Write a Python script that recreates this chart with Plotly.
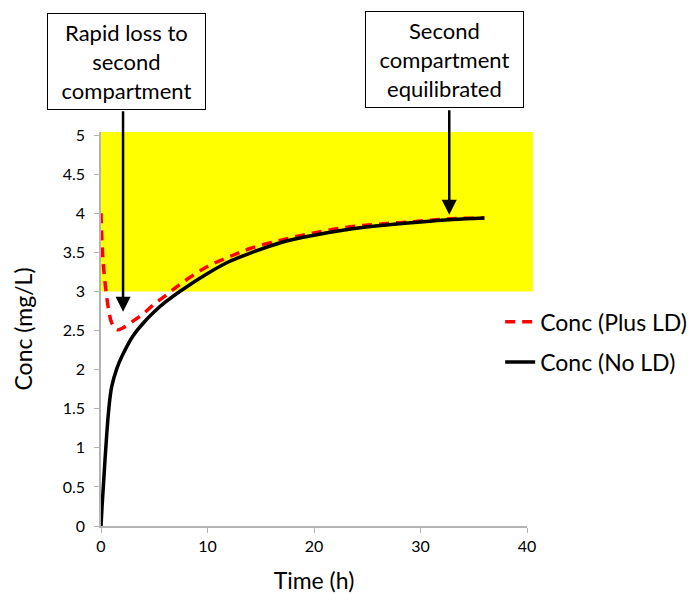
import plotly.graph_objects as go

# Time (h) and concentrations (mg/L)
time_h = [0, 0.1, 0.25, 0.5, 0.75, 1, 1.5, 2, 3, 4, 5, 6, 7.5, 10, 12, 14,
          17, 20, 23, 26, 30, 33, 36]
conc_plus_ld = [4.0, 3.6, 3.3, 2.97, 2.74, 2.6, 2.51, 2.53, 2.62, 2.72, 2.84,
                2.94, 3.1, 3.32, 3.44, 3.55, 3.66, 3.75, 3.82, 3.86, 3.9,
                3.93, 3.94]
conc_no_ld = [0, 0.25, 0.57, 1.1, 1.52, 1.78, 2.02, 2.18, 2.43, 2.6, 2.74,
              2.86, 3.01, 3.23, 3.38, 3.49, 3.63, 3.72, 3.79, 3.84, 3.89,
              3.92, 3.94]

# therapeutic window shaded in yellow
window_low, window_high = 3, 5.04

x_ticks = [0, 10, 20, 30, 40]
y_ticks = [0, 0.5, 1, 1.5, 2, 2.5, 3, 3.5, 4, 4.5, 5]

FONT = "Lato, 'Open Sans', sans-serif"
AXIS_GREY = "#b3b3b3"

fig = go.Figure()

fig.add_trace(go.Scatter(
    x=time_h, y=conc_plus_ld, mode="lines", name="Conc (Plus LD)",
    line=dict(color="#ff0000", width=3.5, dash="10px,7px", shape="spline"),
    legend="legend", showlegend=True,
))
fig.add_trace(go.Scatter(
    x=time_h, y=conc_no_ld, mode="lines", name="Conc (No LD)",
    line=dict(color="black", width=3.5, shape="spline"),
    legend="legend2", showlegend=True,
))

fig.add_shape(
    type="rect", xref="paper", yref="y", x0=0, x1=1.014,
    y0=window_low, y1=window_high,
    fillcolor="#ffff00", line=dict(width=0), layer="below",
)

box_style = dict(
    xref="paper", yref="paper", showarrow=False,
    xanchor="center", yanchor="middle",
    font=dict(family=FONT, size=22, color="black"),
    bordercolor="black", borderwidth=1, borderpad=1, bgcolor="white",
    width=155, height=93, align="center",
)
fig.add_annotation(text="Rapid loss to<br>second<br>compartment",
                   x=0.061, y=1.179, **box_style)
fig.add_annotation(text="Second<br>compartment<br>equilibrated",
                   x=0.806, y=1.183, **box_style)

arrow_style = dict(
    xref="x", yref="y", text="", showarrow=True, axref="pixel", ayref="pixel",
    arrowhead=2, arrowsize=1.2, arrowwidth=2.5, arrowcolor="black", ax=0,
)
fig.add_annotation(x=2.07, y=2.74, ay=-202, **arrow_style)
fig.add_annotation(x=32.7, y=3.98, ay=-106, **arrow_style)

legend_style = dict(
    xanchor="left", yanchor="middle", x=0.937,
    bgcolor="rgba(0,0,0,0)",
    font=dict(family=FONT, size=23, color="black"),
)

fig.update_layout(
    width=696, height=594,
    margin=dict(l=101, r=169, t=132, b=68, autoexpand=False),
    plot_bgcolor="white", paper_bgcolor="white",
    font=dict(family=FONT, color="black"),
    showlegend=True,
    legend=dict(y=0.518, **legend_style),
    legend2=dict(y=0.416, **legend_style),
    xaxis=dict(
        range=[0, 40], tickvals=x_ticks, showgrid=False, zeroline=False,
        showline=True, linecolor=AXIS_GREY, linewidth=1.5,
        ticks="outside", tickcolor=AXIS_GREY, ticklen=5, automargin=False,
        tickfont=dict(size=16), title=dict(text="Time (h)", font=dict(size=23),
                                           standoff=23),
    ),
    yaxis=dict(
        range=[0, 5.04], tickvals=y_ticks, showgrid=False, zeroline=False,
        showline=True, linecolor=AXIS_GREY, linewidth=1.5, automargin=False,
        ticks="outside", tickcolor=AXIS_GREY, ticklen=5, ticklabelstandoff=6,
        tickfont=dict(size=16), title=dict(text="Conc (mg/L)", font=dict(size=23),
                                           standoff=24),
    ),
)

# the page body has a default 8px margin; drop it so the figure sits at 0,0
fig.write_html("out.html", config={"displayModeBar": False},
               post_script="document.body.style.margin='0';")
